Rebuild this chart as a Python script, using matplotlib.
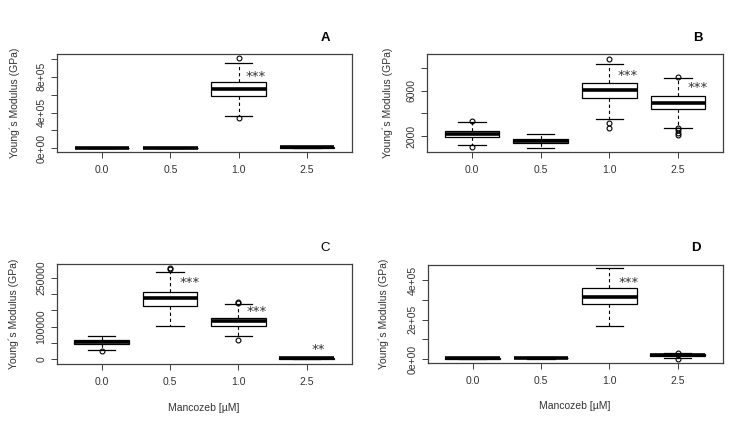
import matplotlib
matplotlib.use("Agg")
import matplotlib.pyplot as plt
from matplotlib.ticker import FixedLocator, FixedFormatter

plt.rcParams['font.family'] = ['Liberation Sans', 'DejaVu Sans']

# ---------------- data ----------------
categories = ["0.0", "0.5", "1.0", "2.5"]
panel_letters = ["A", "B", "C", "D"]

# box stats per panel: (whislo, q1, med, q3, whishi)
A_stats = [(500, 1500, 2200, 3000, 4500),
           (400, 1200, 1800, 2500, 4000),
           (364000, 588000, 666000, 744000, 953000),
           (2000, 7000, 10000, 13000, 18000)]
A_fliers = [[], [], [342000, 1012000], []]

B_stats = [(1173, 1911, 2207, 2471, 3218),
           (907, 1351, 1556, 1707, 2178),
           (3511, 5378, 6089, 6682, 8400),
           (2738, 4373, 4933, 5526, 7156)]
B_fliers = [[996, 3360], [], [2738, 3182, 8844], [2089, 2293, 2533, 2680, 7244]]

C_stats = [(29400, 45900, 52000, 58200, 72300),
           (102000, 163200, 186700, 205100, 268200),
           (70400, 102900, 117300, 127400, 168400),
           (500, 1800, 2600, 3400, 5000)]
C_fliers = [[25400], [275600, 280500], [60000, 171500, 176400], []]

D_stats = [(500, 2000, 3000, 4000, 6000),
           (2500, 4500, 6000, 7500, 9500),
           (169300, 281100, 316700, 359400, 461100),
           (7000, 15000, 19000, 23000, 28000)]
D_fliers = [[], [], [], [2000, 31000]]

# significance stars: (text, x-position in box units, y value)
A_stars = [("***", 3.25, 808000)]
B_stars = [("***", 3.27, 7333), ("***", 4.28, 6329)]
C_stars = [("***", 2.29, 235800), ("***", 3.27, 145700), ("**", 4.17, 28500)]
D_stars = [("***", 3.29, 387900)]

# y ticks and labels
A_yticks = [0, 200000, 400000, 600000, 800000, 1000000]
A_ylabels = ["0e+00", "", "4e+05", "", "8e+05", ""]
B_yticks = [2000, 4000, 6000, 8000]
B_ylabels = ["2000", "", "6000", ""]
C_yticks = [0, 50000, 100000, 150000, 200000, 250000]
C_ylabels = ["0", "", "100000", "", "", "250000"]
D_yticks = [0, 100000, 200000, 300000, 400000]
D_ylabels = ["0e+00", "", "2e+05", "", "4e+05"]

A_ylim = (-41000, 1054000)
B_ylim = (551, 9262)
C_ylim = (-14400, 290900)
D_ylim = (-18800, 477900)

y_label = "Young´s Modulus (GPa)"
x_label = "Mancozeb [µM]"

# ---------------- figure ----------------
W, H = 755, 424
fig = plt.figure(figsize=(W / 100, H / 100), dpi=100)

def rect(x0, y0, x1, y1):
    return [x0 / W, (H - y1) / H, (x1 - x0) / W, (y1 - y0) / H]

TXT = '#333333'
EDGE = '#404040'

panels = [
    dict(rect=rect(57, 54, 352, 152), stats=A_stats, fliers=A_fliers, stars=A_stars,
         yt=A_yticks, yl=A_ylabels, ylim=A_ylim, ylx=-0.127, xlab=False,
         title=(325.7, 37.7), tw='bold'),
    dict(rect=rect(426.7, 54, 723.3, 152.3), stats=B_stats, fliers=B_fliers, stars=B_stars,
         yt=B_yticks, yl=B_ylabels, ylim=B_ylim, ylx=-0.115, xlab=False,
         title=(698, 37.7), tw='bold'),
    dict(rect=rect(56.7, 264.3, 351.7, 364), stats=C_stats, fliers=C_fliers, stars=C_stars,
         yt=C_yticks, yl=C_ylabels, ylim=C_ylim, ylx=-0.127, xlab=True,
         title=(325, 248.3), tw='normal'),
    dict(rect=rect(427.7, 265, 722.7, 362.7), stats=D_stats, fliers=D_fliers, stars=D_stars,
         yt=D_yticks, yl=D_ylabels, ylim=D_ylim, ylx=-0.132, xlab=True,
         title=(696, 248.3), tw='bold'),
]

for letter, p in zip(panel_letters, panels):
    ax = fig.add_axes(p['rect'])
    bstats = []
    for (lo, q1, med, q3, hi), fl in zip(p['stats'], p['fliers']):
        bstats.append(dict(whislo=lo, q1=q1, med=med, q3=q3, whishi=hi, fliers=fl))
    ax.bxp(bstats, positions=[1, 2, 3, 4], widths=0.8, capwidths=0.4,
           patch_artist=True, manage_ticks=False,
           boxprops=dict(facecolor='white', edgecolor='black', linewidth=0.9),
           medianprops=dict(color='black', linewidth=2.6, solid_capstyle='butt'),
           whiskerprops=dict(color='black', linewidth=0.8, linestyle=(0, (3, 2.5))),
           capprops=dict(color='black', linewidth=0.9),
           flierprops=dict(marker='o', markersize=3.5, markerfacecolor='none',
                           markeredgecolor='black', markeredgewidth=0.8, linestyle='none'))
    for txt, xs, ys in p['stars']:
        ax.text(xs, ys, txt, ha='center', va='center', fontsize=9.5, color=TXT,
                family='DejaVu Sans')
    ax.set_xlim(0.34, 4.66)
    ax.set_ylim(*p['ylim'])
    ax.set_xticks([1, 2, 3, 4])
    ax.set_xticklabels(categories)
    ax.yaxis.set_major_locator(FixedLocator(p['yt']))
    ax.yaxis.set_major_formatter(FixedFormatter(p['yl']))
    for lab in ax.get_yticklabels():
        lab.set_rotation(90)
        lab.set_va('center')
    ax.tick_params(axis='both', length=4.5, width=0.7, color=EDGE,
                   labelsize=7.5, labelcolor=TXT, pad=3)
    ax.tick_params(axis='x', pad=5)
    for s in ax.spines.values():
        s.set_color(EDGE)
        s.set_linewidth(0.9)
    ax.set_ylabel(y_label, fontsize=7.5, color=TXT)
    ax.yaxis.set_label_coords(p['ylx'], 0.5)
    if p['xlab']:
        ax.set_xlabel(x_label, fontsize=7.5, color=TXT, va='center')
        ax.xaxis.set_label_coords(0.5, -0.44)
    fig.text(p['title'][0] / W, 1 - p['title'][1] / H, letter, ha='center', va='center',
             fontsize=9.5, fontweight=p['tw'], color='black')

fig.savefig("out.png", dpi=100)
